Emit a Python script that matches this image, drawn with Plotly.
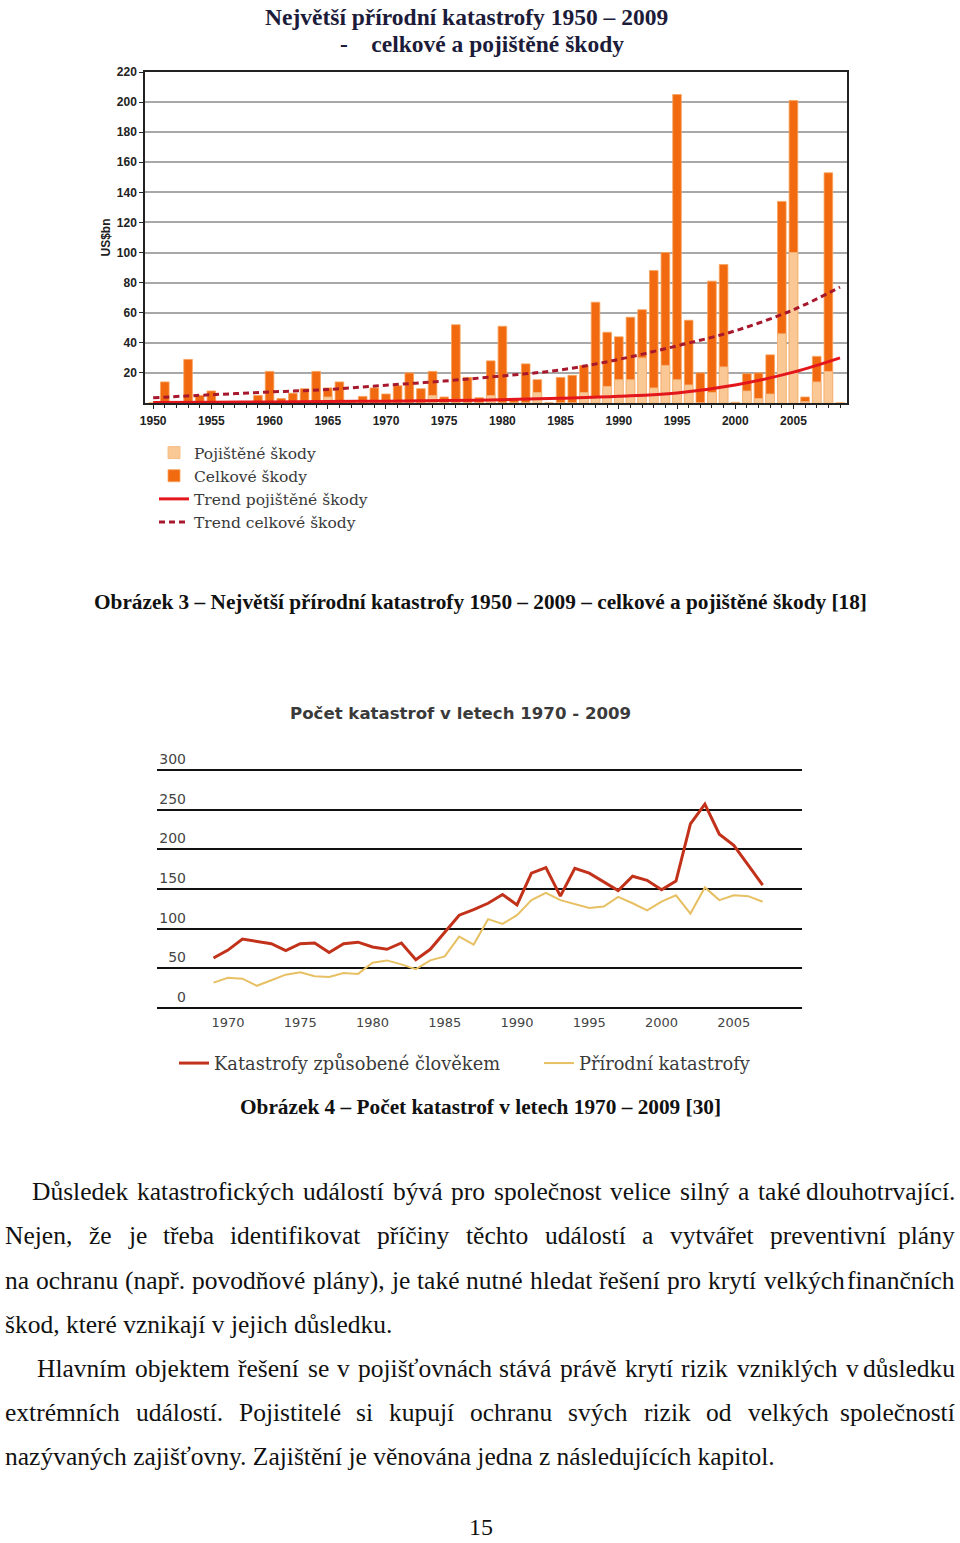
import plotly.graph_objects as go

# ---------------- Chart 1 data: largest natural catastrophes 1950-2009 (US$bn) -----------
years = list(range(1950, 2010))
total_losses = [0, 14, 0, 29, 5, 8, 0, 0, 0, 5,
                21, 3, 6.5, 9.5, 21, 10, 14, 1, 4.4, 10,
                6, 11.5, 20, 9.5, 21, 4, 52, 17, 3.5, 28,
                51, 2, 26, 15.5, 0, 17, 18.4, 25, 67, 47,
                44, 57, 62, 88, 100, 205, 55, 20, 81, 92,
                0.5, 19.5, 20, 32, 134, 201, 4, 31, 153, 0]
insured_losses = [0, 0, 0, 0, 0, 0, 0, 0, 0, 0,
                  0, 0, 0, 0, 0, 4, 0, 0, 0, 0,
                  0, 0, 0, 0, 5, 0, 0, 0, 0, 5,
                  0, 0, 0, 7, 0, 0, 0, 7, 4, 11,
                  15.5, 15.5, 30, 10, 25, 15.5, 12, 0, 7, 24,
                  0, 8, 3, 6, 46, 100, 1, 14, 21, 0]
trend_years = [1950, 1955, 1960, 1965, 1970, 1975, 1980, 1985, 1990, 1995, 2000, 2005, 2009]
trend_total = [3.5, 5.5, 7.3, 9, 11.8, 14.6, 18, 22, 29, 38, 48, 62, 77]
trend_insured = [0.3, 0.5, 0.7, 1.0, 1.2, 1.6, 2.2, 3.2, 4.5, 6.7, 12, 20.5, 30]
y1_ticks = [20, 40, 60, 80, 100, 120, 140, 160, 180, 200, 220]
x1_ticks = [1950, 1955, 1960, 1965, 1970, 1975, 1980, 1985, 1990, 1995, 2000, 2005]

# ---------------- Chart 2 data: number of catastrophes ----------------
years2 = list(range(1969, 2008))
man_made = [63, 73, 87, 84, 81, 72.5, 81, 82, 70, 81, 83, 77, 74, 82, 61, 74, 96, 117, 124, 132,
            143, 130, 170, 177, 141, 176, 170, 159, 148, 166, 161, 149, 160, 232, 257, 219, 205, 180, 155]
natural = [32, 38, 37, 28, 35, 42, 45, 40, 39, 44, 43, 57, 60, 55, 49, 60, 65, 90, 80, 112,
           106, 117, 136, 145, 136, 131, 126, 128, 140, 132, 123, 134, 142, 119, 152, 136, 142, 141, 134]
y2_ticks = [0, 50, 100, 150, 200, 250, 300]
x2_ticks = [1970, 1975, 1980, 1985, 1990, 1995, 2000, 2005]

W, H = 960, 1543
def px(x): return x / W
def py(y): return 1 - y / H

SERIF = "Liberation Serif, Times New Roman, serif"
LSERIF = "DejaVu Serif, serif"
SANS = "Liberation Sans, Arial, sans-serif"
ROUND = "DejaVu Sans, Verdana, sans-serif"

fig = go.Figure()

# Chart 1 traces
fig.add_trace(go.Bar(x=years, y=total_losses, name="Celkové škody", width=0.74,
                     marker=dict(color="#F26A10", line=dict(color="#F7A35C", width=0.8)),
                     xaxis="x", yaxis="y", legend="legend", legendrank=2))
fig.add_trace(go.Bar(x=years, y=insured_losses, name="Pojištěné škody", width=0.74,
                     marker=dict(color="#F9C894", line=dict(color="#F5B57A", width=0.8)),
                     xaxis="x", yaxis="y", legend="legend", legendrank=1))
fig.add_trace(go.Scatter(x=trend_years, y=trend_insured, name="Trend pojištěné škody", mode="lines",
                         line=dict(color="#E3161C", width=3, shape="spline"),
                         xaxis="x", yaxis="y", legend="legend", legendrank=3))
fig.add_trace(go.Scatter(x=trend_years, y=trend_total, name="Trend celkové škody", mode="lines",
                         line=dict(color="#A8182C", width=3, dash="6px,4px", shape="spline"),
                         xaxis="x", yaxis="y", legend="legend", legendrank=4))

# Chart 2 traces
fig.add_trace(go.Scatter(x=years2, y=natural, name="Přírodní katastrofy", mode="lines",
                         line=dict(color="#E8C064", width=2),
                         xaxis="x2", yaxis="y2", legend="legend2", legendrank=2))
fig.add_trace(go.Scatter(x=years2, y=man_made, name="Katastrofy způsobené člověkem", mode="lines",
                         line=dict(color="#C2321A", width=3),
                         xaxis="x2", yaxis="y2", legend="legend2", legendrank=1))

fig.update_layout(
    width=W, height=H, margin=dict(l=0, r=0, t=0, b=0, autoexpand=False),
    paper_bgcolor="white", plot_bgcolor="white", barmode="overlay",
    xaxis=dict(domain=[px(145), px(847)], range=[1949.3, 2009.6], anchor="y", automargin=False,
               tickvals=x1_ticks, ticks="outside", ticklen=4, tickcolor="#222", ticklabelstandoff=2,
               minor=dict(ticks="outside", dtick=1, tick0=1950, ticklen=3, tickcolor="#222"),
               showline=True, linecolor="#222", linewidth=1.5, mirror=True, showgrid=False,
               tickfont=dict(family=SANS, size=12, color="#222", weight="bold")),
    yaxis=dict(domain=[py(403), py(72)], range=[0, 220], anchor="x", automargin=False,
               tickvals=y1_ticks, ticks="outside", ticklen=4, tickcolor="#222",
               showline=True, linecolor="#222", linewidth=1.5, mirror=True,
               showgrid=True, gridcolor="#A8A8A8", gridwidth=1.5, zeroline=False,
               tickfont=dict(family=SANS, size=12, color="#222", weight="bold"),
               title=dict(text="US$bn", font=dict(family=SANS, size=12, color="#222", weight="bold"),
                          standoff=4)),
    xaxis2=dict(domain=[px(157), px(802)], range=[1965.09, 2009.72], anchor="y2", automargin=False,
                tickvals=x2_ticks, ticks="", showline=False, showgrid=False, zeroline=False,
                ticklabelstandoff=3,
                tickfont=dict(family=ROUND, size=13, color="#444")),
    yaxis2=dict(domain=[py(1010.4), py(767.6)], range=[-3, 303], anchor="free", position=px(186),
                automargin=False,
                tickvals=y2_ticks, ticks="", showline=False, zeroline=False,
                showgrid=True, gridcolor="#111", gridwidth=2, ticklabelshift=-11,
                tickfont=dict(family=ROUND, size=14, color="#444")),
    legend=dict(x=px(154), y=py(436), xanchor="left", yanchor="top", orientation="v",
                font=dict(family=LSERIF, size=15.5, color="#3a3a3a"), bgcolor="rgba(0,0,0,0)",
                tracegroupgap=0, traceorder="normal"),
    legend2=dict(x=px(174), y=py(1045), xanchor="left", yanchor="top", orientation="h",
                 entrywidth=320, entrywidthmode="pixels",
                 font=dict(family=LSERIF, size=17.8, color="#3a3a3a"), bgcolor="rgba(0,0,0,0)"),
    showlegend=True,
)

ann = []
def text(x, y, t, size, family=SERIF, bold=False, color="#111", xanchor="center", yanchor="middle"):
    ann.append(dict(x=px(x), y=py(y), xref="paper", yref="paper", text=t, showarrow=False,
                    xanchor=xanchor, yanchor=yanchor,
                    font=dict(family=family, size=size, color=color, weight="bold" if bold else "normal")))

# Chart titles
text(466, 17, "Největší přírodní katastrofy 1950 – 2009", 23.5, bold=True, color="#1c1c3a")
text(482, 44, "-\u00a0\u00a0\u00a0\u00a0celkové a pojištěné škody", 23.5, bold=True, color="#1c1c3a")
text(460, 713, "Počet katastrof v letech 1970 - 2009", 16.6, family=ROUND, bold=True, color="#3a3a3a")

# Captions
text(480, 602, "Obrázek 3 – Největší přírodní katastrofy 1950 – 2009 – celkové a pojištěné škody [18]", 21.3, bold=True)
text(480, 1107, "Obrázek 4 – Počet katastrof v letech 1970 – 2009 [30]", 21.3, bold=True)

# Body text: justified lines laid out word by word using Times advance widths
BODY = 25.5
TIMES = {' ': 250, 'a': 444, 'b': 500, 'c': 444, 'd': 500, 'e': 444, 'f': 333, 'g': 500, 'h': 500,
         'i': 278, 'j': 278, 'k': 500, 'l': 278, 'm': 778, 'n': 500, 'o': 500, 'p': 500, 'q': 500,
         'r': 333, 's': 389, 't': 278, 'u': 500, 'v': 500, 'w': 722, 'x': 500, 'y': 500, 'z': 444,
         'D': 722, 'N': 722, 'H': 722, 'P': 556, 'Z': 611, ',': 250, '.': 250, '(': 333, ')': 333,
         'á': 444, 'é': 444, 'í': 278, 'ý': 500, 'ů': 500, 'č': 444, 'ř': 333, 'š': 389, 'ž': 444,
         'ě': 444, 'ň': 500, 'ť': 333}
def wwidth(w):
    return sum(TIMES.get(c, 500) for c in w) * BODY / 1000

just_lines = [
    (1191, 30, "Důsledek katastrofických událostí bývá pro společnost velice silný a také dlouhotrvající."),
    (1235, 3, "Nejen, že je třeba identifikovat příčiny těchto událostí a vytvářet preventivní plány"),
    (1280, 3, "na ochranu (např. povodňové plány), je také nutné hledat řešení pro krytí velkých finančních"),
    (1368, 35, "Hlavním objektem řešení se v pojišťovnách stává právě krytí rizik vzniklých v důsledku"),
    (1412, 3, "extrémních událostí. Pojistitelé si kupují ochranu svých rizik od velkých společností"),
]
RIGHT = 957
for y, x0, line in just_lines:
    words = line.split(" ")
    widths = [wwidth(w) for w in words]
    gap = (RIGHT - x0 - sum(widths)) / (len(words) - 1)
    x = x0
    for w, wd in zip(words[:-1], widths[:-1]):
        text(x, y, w, BODY, xanchor="left")
        x += wd + gap
    text(RIGHT, y, words[-1], BODY, xanchor="right")
text(3, 1324, "škod, které vznikají v jejich důsledku.", BODY, xanchor="left")
text(3, 1456, "nazývaných zajišťovny. Zajištění je věnována jedna z následujících kapitol.", BODY, xanchor="left")
text(481, 1542, "15", 24, yanchor="bottom")

fig.update_layout(annotations=ann)
fig.write_html("out.html", config={"displayModeBar": False},
               post_script="document.body.style.margin='0px';")
